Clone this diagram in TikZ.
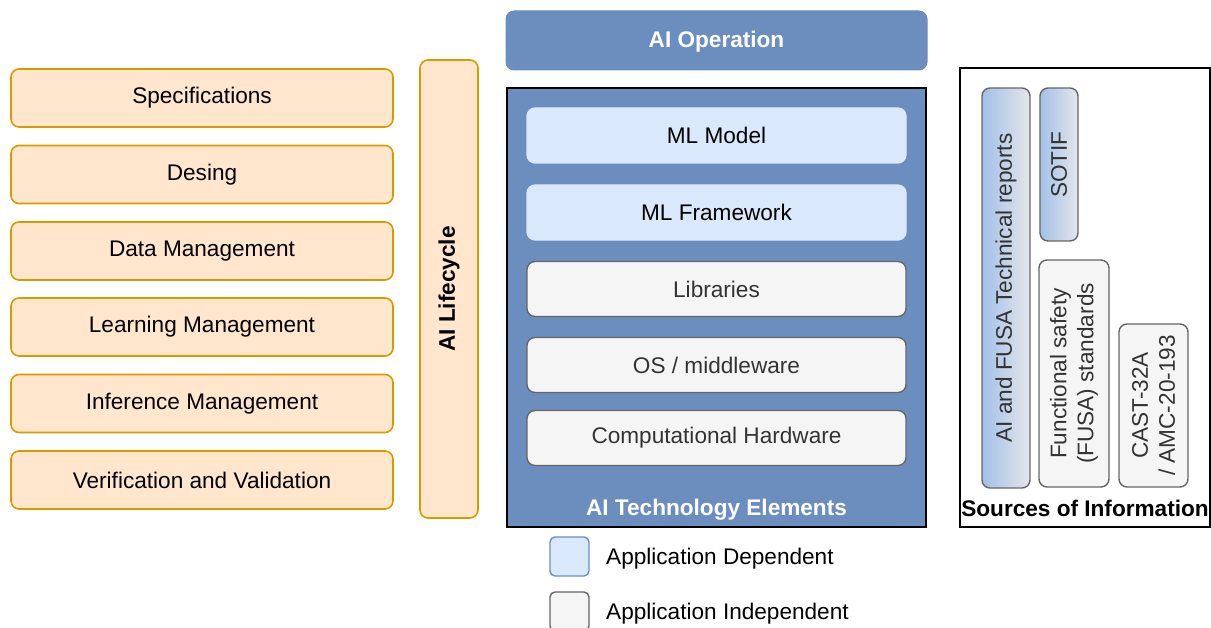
\documentclass[tikz,border=0pt]{standalone}
\usepackage{fontspec}
\setmainfont{Liberation Sans}
\usetikzlibrary{positioning}
\definecolor{lifefill}{HTML}{FFE6CC}
\definecolor{lifedraw}{HTML}{D79B00}
\definecolor{opblue}{HTML}{6C8EBF}
\definecolor{depfill}{HTML}{DAE8FC}
\definecolor{indfill}{HTML}{F5F5F5}
\definecolor{inddraw}{HTML}{666666}
\definecolor{indtext}{HTML}{333333}
\definecolor{gradblue}{HTML}{A3C0E8}
\definecolor{gradgray}{HTML}{E4E6EA}
\newcommand{\bodyfont}{\fontsize{22.6}{27}\selectfont}
\tikzset{
  base/.style={rounded corners=8pt, inner sep=0pt, outer sep=0pt, align=center, font=\bodyfont},
  lifebox/.style={base, fill=lifefill, draw=lifedraw, line width=1.6pt, text=black},
  depbox/.style={base, fill=depfill, draw=depfill, line width=1.2pt, text=black},
  indbox/.style={base, fill=indfill, draw=inddraw, line width=1.4pt, text=indtext},
  gradbox/.style={base, left color=gradblue, right color=gradgray, draw=inddraw, line width=1.4pt, text=indtext},
  frame/.style={inner sep=0pt, outer sep=0pt},
  legendsq/.style={rounded corners=5pt, inner sep=0pt, minimum width=39pt, minimum height=39pt, line width=1.4pt},
  title/.style={font=\bodyfont\bfseries, inner sep=0pt},
}
\begin{document}
\begin{tikzpicture}[x=1pt,y=-1pt]
\useasboundingbox (0,0) rectangle (1211,628);
\clip (0,0) rectangle (1211,628);

% AI lifecycle stages
\node[lifebox, minimum width=382pt, minimum height=58pt] (spec) at (202,98) {Specifications};
\node[lifebox, minimum width=382pt, minimum height=58pt] (des)  at (202,174.5) {Desing};
\node[lifebox, minimum width=382pt, minimum height=58pt] (data) at (202,251) {Data Management};
\node[lifebox, minimum width=382pt, minimum height=58pt] (learn) at (202,327) {Learning Management};
\node[lifebox, minimum width=382pt, minimum height=58pt] (infer) at (202,403.5) {Inference Management};
\node[lifebox, minimum width=382pt, minimum height=58pt] (vv)   at (202,480) {Verification and Validation};
\node[lifebox, rotate=90, minimum width=458pt, minimum height=58pt, font=\bodyfont\bfseries] (life) at (449,289) {AI Lifecycle};

% AI operation and technology stack
\node[base, fill=opblue, draw=opblue, line width=1pt, minimum width=421pt, minimum height=59pt, text=white, font=\bodyfont\bfseries, text depth=2pt] (op) at (716.5,40.5) {AI Operation};
\node[frame, fill=opblue, draw=black, line width=2pt, minimum width=419pt, minimum height=439pt] (tech) at (716.5,307.5) {};
\node[title, text=white] (techlbl) at (716.5,510) {AI Technology Elements};
\node[depbox, minimum width=379pt, minimum height=55pt] (model) at (716.5,135.5) {ML Model};
\node[depbox, minimum width=379pt, minimum height=55pt] (fw) at (716.5,212.5) {ML Framework};
\node[indbox, minimum width=379pt, minimum height=55pt] (libs) at (716.5,289) {Libraries};
\node[indbox, minimum width=379pt, minimum height=55pt] (os) at (716.5,365) {OS / middleware};
\node[indbox, minimum width=379pt, minimum height=55pt] (hw) at (716.5,438) {Computational Hardware};

% legend
\node[legendsq, fill=depfill, draw=opblue] (ldep) at (569.5,556.5) {};
\node[anchor=west, font=\bodyfont, inner sep=0pt] (ldeptxt) at (606,558.5) {Application Dependent};
\node[legendsq, fill=indfill, draw=inddraw] (lind) at (569.5,611.5) {};
\node[anchor=west, font=\bodyfont, inner sep=0pt] (lindtxt) at (606,613.5) {Application Independent};

% sources of information
\node[frame, draw=black, line width=1.6pt, minimum width=250pt, minimum height=459pt] (src) at (1085,297.5) {};
\node[title, text=black] (srclbl) at (1085,508) {Sources of Information};
\node[gradbox, rotate=90, minimum width=400pt, minimum height=48pt] (rep) at (1006,288) {AI and FUSA Technical reports};
\node[gradbox, rotate=90, minimum width=153pt, minimum height=38pt] (sotif) at (1059,164.5) {SOTIF};
\node[indbox, rotate=90, minimum width=227pt, minimum height=70pt] (fusa) at (1074,373.5) {Functional safety\\(FUSA) standards};
\node[indbox, rotate=90, minimum width=163pt, minimum height=69pt] (cast) at (1153.5,405.5) {CAST-32A\\/ AMC-20-193};
\end{tikzpicture}
\end{document}
